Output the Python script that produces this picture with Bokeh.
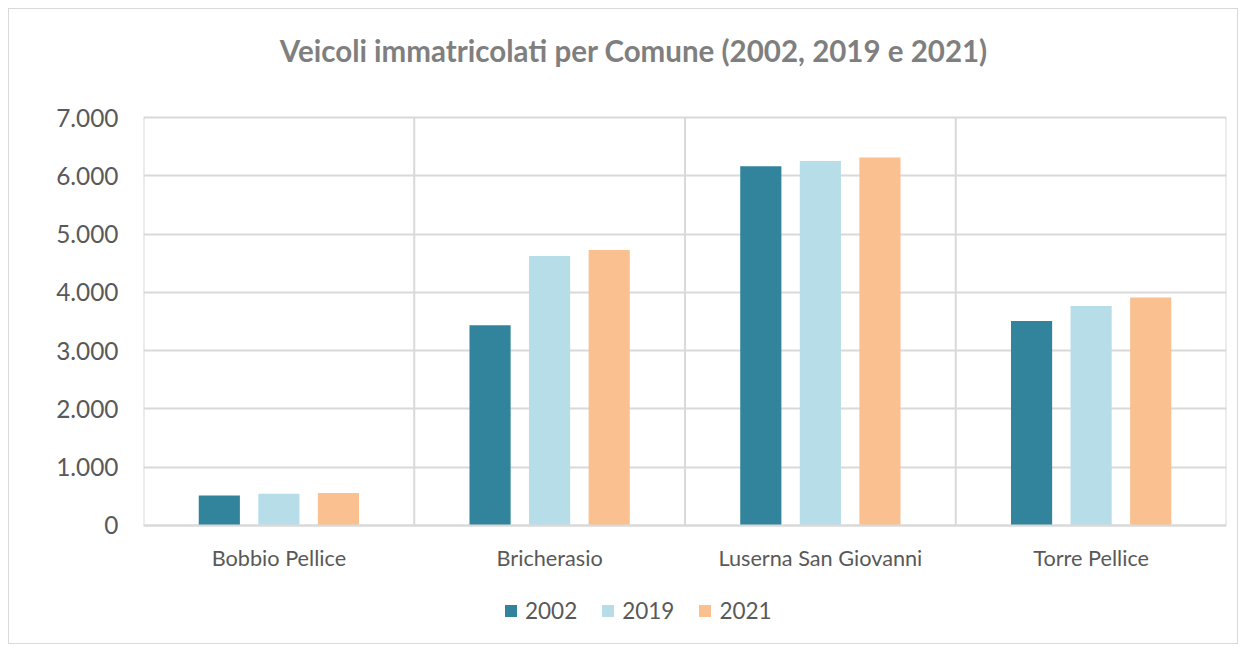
from bokeh.plotting import figure
from bokeh.models import FixedTicker, Legend, LegendItem, Range1d, Label
from bokeh.embed import file_html
from bokeh.resources import INLINE

categories = ["Bobbio Pellice", "Bricherasio", "Luserna San Giovanni", "Torre Pellice"]
years = ["2002", "2019", "2021"]
v2002 = [515, 3435, 6165, 3510]
v2019 = [545, 4622, 6252, 3765]
v2021 = [557, 4725, 6315, 3912]
colors = ["#31849B", "#B7DEE8", "#FAC090"]
y_ticks = [0, 1000, 2000, 3000, 4000, 5000, 6000, 7000]
title_text = "Veicoli immatricolati per Comune (2002, 2019 e 2021)"

FONT = "Lato"
TXT = "#595959"
GRID = "#D9D9D9"

# frame spans the whole chart height; value axis 0..7000 occupies 408 px of 636
p = figure(width=1230, height=636, output_backend="svg", toolbar_location=None,
           x_range=Range1d(0, len(categories)), y_range=Range1d(-2059, 8853),
           min_border_left=134, min_border_right=13, min_border_top=0, min_border_bottom=0)
p.styles = {"border": "1px solid #D9D9D9", "margin-left": "8px", "margin-top": "8px"}

offsets = [-0.22, 0.0, 0.22]
series = [v2002, v2019, v2021]
renderers = []
for k, (vals, col) in enumerate(zip(series, colors)):
    xs = [i + 0.5 + offsets[k] for i in range(len(categories))]
    r = p.vbar(x=xs, top=vals, width=0.152, bottom=0, fill_color=col, line_color=None)
    renderers.append(r)

# category separators (vertical gridlines) spanning the value axis
bounds = list(range(len(categories) + 1))
p.segment(x0=bounds, y0=[y_ticks[0]] * len(bounds), x1=bounds, y1=[y_ticks[-1]] * len(bounds),
          line_color=GRID, line_width=2)

p.xaxis.ticker = FixedTicker(ticks=[i + 0.5 for i in range(len(categories))])
p.xaxis.major_label_overrides = {i + 0.5: c for i, c in enumerate(categories)}
p.xaxis.fixed_location = 0
p.xgrid.visible = False
p.yaxis.ticker = FixedTicker(ticks=y_ticks)
p.yaxis.major_label_overrides = {t: f"{t:,}".replace(",", ".") for t in y_ticks}

for ax in (p.xaxis[0], p.yaxis[0]):
    ax.major_tick_line_color = None
    ax.minor_tick_line_color = None
    ax.major_label_text_font = FONT
    ax.major_label_text_color = TXT
p.xaxis.major_label_text_font_size = "21.7px"
p.yaxis.major_label_text_font_size = "24.4px"
p.yaxis.axis_line_color = None
p.xaxis.axis_line_color = GRID
p.xaxis.axis_line_width = 2
p.xaxis.major_label_standoff = 14
p.yaxis.major_label_standoff = 19

p.ygrid.grid_line_color = GRID
p.ygrid.grid_line_width = 2
p.outline_line_color = None

title = Label(x=1.811, y=8150, text=title_text, text_align="center", text_baseline="middle",
              text_font=FONT, text_font_size="29.5px", text_font_style="bold", text_color="#7F7F7F")
p.add_layout(title)

legend = Legend(items=[LegendItem(label=y, renderers=[r]) for y, r in zip(years, renderers)],
                orientation="horizontal", location=(360, 21),
                label_text_font=FONT, label_text_font_size="22.5px", label_text_color=TXT,
                glyph_width=15, glyph_height=15, spacing=23, padding=4, margin=0,
                border_line_color=None, background_fill_alpha=0, label_standoff=7)
p.add_layout(legend, "center")

open("out.html", "w").write(file_html(p, INLINE))
